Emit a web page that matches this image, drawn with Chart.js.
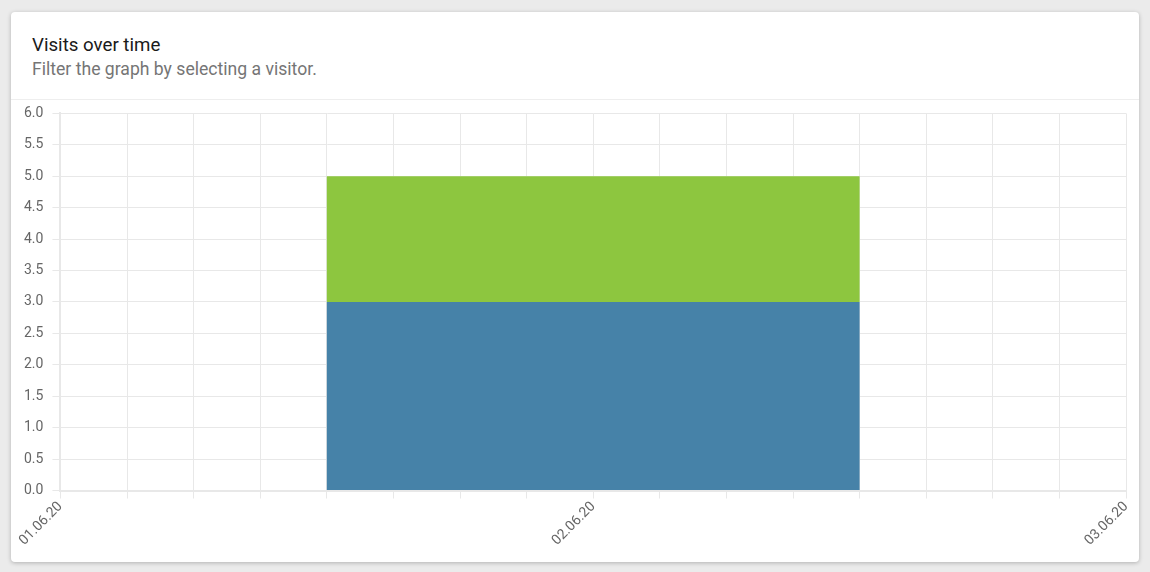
<!DOCTYPE html>
<html>
<head>
<meta charset="utf-8">
<script src="https://cdn.jsdelivr.net/npm/chart.js@4/dist/chart.umd.min.js"></script>
<style>
  html, body { margin: 0; padding: 0; background: #ebebeb; font-family: Roboto, sans-serif; }
  .card {
    position: absolute; left: 11px; top: 12px; width: 1128px; height: 550px;
    background: #fff; border-radius: 4px;
    box-shadow: 0 1px 4px rgba(0, 0, 0, 0.25);
  }
  .card-header { height: 88px; border-bottom: 1px solid #eeeeee; padding: 0 21px; box-sizing: border-box; }
  .card-header h3 { margin: 0; padding-top: 21px; font-size: 18.7px; font-weight: 400; color: #1a1a1a; line-height: 24px; }
  .card-header p { margin: 0; font-size: 17.6px; color: #757575; line-height: 24px; }
  .chart-wrap { position: absolute; left: 0; top: 84px; width: 1128px; height: 466px; }
</style>
</head>
<body>
<div class="card">
  <div class="card-header">
    <h3>Visits over time</h3>
    <p>Filter the graph by selecting a visitor.</p>
  </div>
  <div class="chart-wrap"><canvas id="visitsChart"></canvas></div>
</div>
<script>
// one bar per day, stacked by visitor
var days = ['01.06.20', '02.06.20', '03.06.20'];
var visitorA = [0, 3, 0];
var visitorB = [0, 2, 0];
var yTicks = [0, 0.5, 1, 1.5, 2, 2.5, 3, 3.5, 4, 4.5, 5, 5.5, 6];
var hoursShown = 48;   // the grid is drawn every 3 hours over the two days
var gridStep = 3;

var gridColor = '#e8e8e8';
var tickColor = '#666';
var tickFont = { family: 'Roboto', size: 14 };

var ctx = document.getElementById('visitsChart').getContext('2d');
var chart = new Chart(ctx, {
  type: 'bar',
  data: {
    labels: days,
    datasets: [{
      label: 'Visitor A',
      data: visitorA,
      backgroundColor: '#4682a8',
      stack: 'visits'
    }, {
      label: 'Visitor B',
      data: visitorB,
      backgroundColor: '#8dc63f',
      stack: 'visits'
    }]
  },
  options: {
    responsive: true,
    maintainAspectRatio: false,
    animation: false,
    barPercentage: 1,
    categoryPercentage: 1,
    inflateAmount: 0,
    layout: { padding: { left: 4, right: 13, top: 8, bottom: 13 } },
    plugins: {
      legend: { display: false },
      tooltip: { enabled: false }
    },
    scales: {
      x: {
        stacked: true,
        offset: false,
        weight: 1,
        grid: { display: false, drawTicks: false, offset: false },
        border: { display: false },
        ticks: {
          color: tickColor,
          font: tickFont,
          minRotation: 45,
          maxRotation: 45,
          padding: 0,
          autoSkip: false
        }
      },
      hours: {
        type: 'linear',
        position: 'bottom',
        weight: 0,
        offset: false,
        min: 0,
        max: hoursShown,
        grid: { color: gridColor, lineWidth: 1, tickLength: 8, offset: false },
        border: { color: gridColor, width: 2 },
        ticks: { display: false, stepSize: gridStep }
      },
      y: {
        stacked: true,
        min: yTicks[0],
        max: yTicks[yTicks.length - 1],
        afterBuildTicks: function (scale) {
          scale.ticks = yTicks.map(function (v) { return { value: v }; });
        },
        grid: { color: gridColor, lineWidth: 1, tickLength: 8 },
        border: { color: gridColor, width: 2 },
        ticks: {
          color: tickColor,
          font: tickFont,
          padding: 9,
          callback: function (value) { return Number(value).toFixed(1); }
        }
      }
    }
  }
});
</script>
</body>
</html>
